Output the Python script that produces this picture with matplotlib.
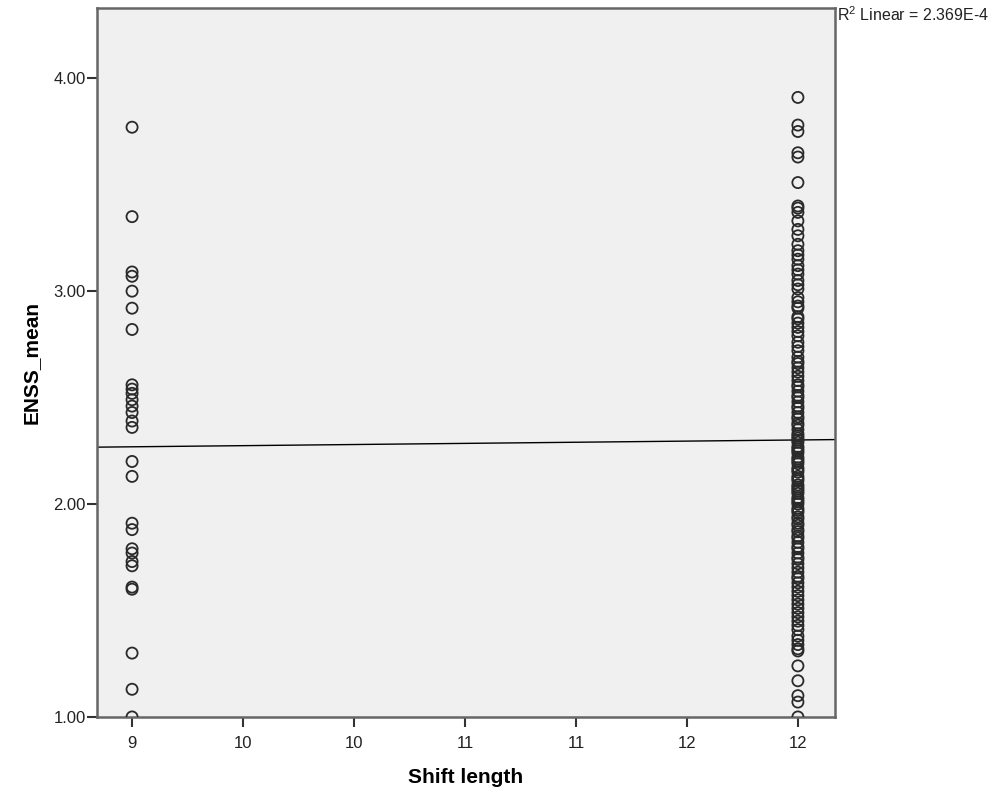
import numpy as np
import matplotlib
matplotlib.use('Agg')
from matplotlib import pyplot as plt

plt.rcParams['font.family'] = ['Liberation Sans', 'DejaVu Sans']
plt.rcParams['mathtext.fontset'] = 'custom'
plt.rcParams['mathtext.rm'] = 'Liberation Sans'

# ENSS_mean values, per shift length group
shift_9 = [3.77, 3.35, 3.09, 3.07, 3.00, 2.92, 2.82,
           2.56, 2.54, 2.52, 2.49, 2.46, 2.43, 2.39, 2.36,
           2.20, 2.13, 1.91, 1.88, 1.79, 1.77, 1.73, 1.71, 1.61, 1.60,
           1.30, 1.13, 1.00]
shift_12 = [3.91, 3.78, 3.75, 3.65, 3.63, 3.51,
            3.40, 3.39, 3.37, 3.33, 3.29, 3.26, 3.22, 3.19, 3.17, 3.15,
            3.12, 3.10, 3.08, 3.05, 3.03, 3.01, 2.97, 2.95, 2.93, 2.92, 2.88, 2.87,
            2.85, 2.83, 2.81, 2.79, 2.76, 2.74, 2.72, 2.69, 2.67, 2.66, 2.64, 2.62,
            2.60, 2.58, 2.56, 2.55, 2.53, 2.51, 2.50,
            2.48, 2.46, 2.45, 2.43, 2.41, 2.40, 2.38, 2.37, 2.35, 2.33,
            2.32, 2.31, 2.30, 2.29, 2.27, 2.26, 2.25, 2.24, 2.22, 2.21,
            2.20, 2.19, 2.17, 2.16, 2.15, 2.13, 2.12, 2.11, 2.09, 2.08,
            2.07, 2.06, 2.05, 2.03, 2.02, 2.01, 2.00, 1.98, 1.97, 1.96,
            1.94, 1.93, 1.91, 1.90, 1.88, 1.87, 1.85, 1.84, 1.82, 1.80,
            1.79, 1.77, 1.75, 1.74, 1.72, 1.70, 1.68, 1.66, 1.65, 1.63,
            1.61, 1.59, 1.57, 1.55, 1.53, 1.51, 1.49, 1.47, 1.45, 1.43,
            1.41, 1.38, 1.36, 1.34, 1.32, 1.31,
            1.24, 1.17, 1.10, 1.07, 1.00]

x_ticks = [9, 9.5, 10, 10.5, 11, 11.5, 12]
x_tick_labels = ['9', '10', '10', '11', '11', '12', '12']
y_ticks = [1, 2, 3, 4]
y_tick_labels = ['1.00', '2.00', '3.00', '4.00']
r2_text = r'R$^{2}$ Linear = 2.369E-4'

x = np.array([9] * len(shift_9) + [12] * len(shift_12), dtype=float)
y = np.array(shift_9 + shift_12)

fig = plt.figure(figsize=(10.02, 7.91), dpi=100)
ax = fig.add_axes([0.0968, 0.0936, 0.7365, 0.8963])
ax.set_facecolor('#f0f0f0')

ax.scatter(x, y, s=64, facecolors='none', edgecolors='#2a2a2a', linewidths=1.3, zorder=3)

xlim = (8.842, 12.167)
ax.set_xlim(xlim)
ax.set_ylim(1.0, 4.33)

# linear fit line across the whole x range
b, a = np.polyfit(x, y, 1)
xs = np.array(xlim)
ax.plot(xs, a + b * xs, color='black', lw=1.0, zorder=2)

ax.set_xticks(x_ticks)
ax.set_xticklabels(x_tick_labels)
ax.set_yticks(y_ticks)
ax.set_yticklabels(y_tick_labels)
ax.tick_params(direction='out', length=7, width=1.5, color='#333333',
               labelsize=12, labelcolor='#222222')
ax.tick_params(axis='x', pad=7)
ax.tick_params(axis='y', pad=1)

for s in ax.spines.values():
    s.set_color('#666666')
    s.set_linewidth(1.8)

ax.set_xlabel('Shift length', fontsize=15, fontweight='bold', labelpad=12)
ax.set_ylabel('ENSS_mean', fontsize=15, fontweight='bold', labelpad=9)

fig.text(0.835, 0.973, r2_text, fontsize=11.5, color='#222222', va='baseline', ha='left')

fig.savefig('out.png', dpi=100)
